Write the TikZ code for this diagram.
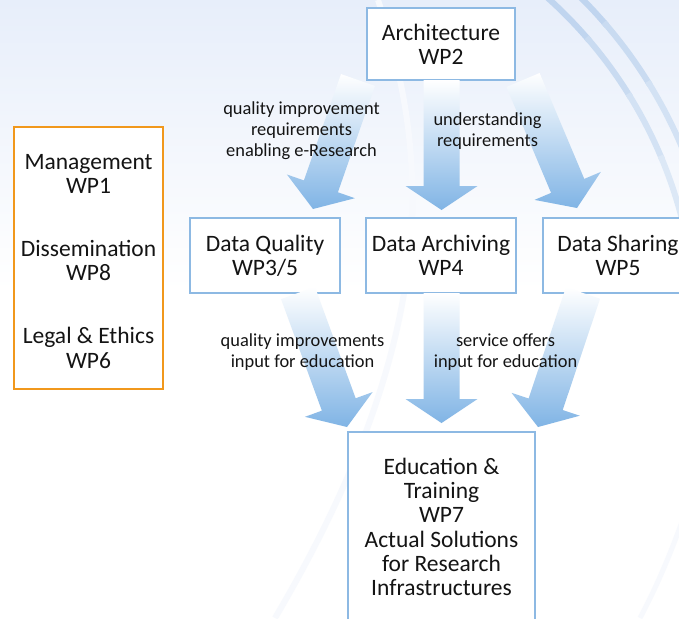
\documentclass[tikz,border=0pt]{standalone}
\usepackage{fontspec}
\setmainfont{Carlito}
\usetikzlibrary{calc}
\definecolor{boxblue}{RGB}{141,185,227}
\definecolor{arrblue}{RGB}{128,180,229}
\definecolor{orangeb}{RGB}{241,152,28}
\definecolor{bgtop}{RGB}{231,238,250}
\definecolor{arcblue}{RGB}{192,213,239}
\definecolor{faintarc}{RGB}{247,249,253}
\definecolor{txt}{RGB}{20,20,20}
\tikzset{
  wpbox/.style={draw=boxblue, line width=2.6pt, fill=white, inner sep=0pt},
  mgbox/.style={draw=orangeb, line width=2.6pt, fill=white, inner sep=0pt},
  boxtext/.style={font=\fontsize{23.5}{24.3}\selectfont, align=center, text=txt, inner sep=0pt},
  lbl/.style={font=\fontsize{18.4}{21}\selectfont, align=center, text=txt, inner sep=0pt},
  arrowfill/.style={top color=white, bottom color=arrblue, draw=none},
  arcband/.style={line width=6pt},
}
\newcommand{\blockarrow}[2]{%
  \coordinate (#1-h) at ($(#2)!24pt!(#1)$);
  \path[arrowfill] ($(#1)!18pt!90:(#2)$) -- ($(#1-h)!18pt!90:(#2)$) -- ($(#1-h)!36pt!90:(#2)$) -- (#2)
    -- ($(#1-h)!36pt!-90:(#2)$) -- ($(#1-h)!18pt!-90:(#2)$) -- ($(#1)!18pt!-90:(#2)$) -- cycle;
}
\newcommand{\fadearc}[1]{%
  \draw[arcband, arcblue] plot[domain=-52:-40.5, samples=20] ({250+#1*cos(\x)},{330+#1*sin(\x)});
  \draw[arcband, arcblue!85] plot[domain=-41:-31.5, samples=20] ({250+#1*cos(\x)},{330+#1*sin(\x)});
  \draw[arcband, arcblue!70] plot[domain=-32:-22.5, samples=20] ({250+#1*cos(\x)},{330+#1*sin(\x)});
  \draw[arcband, arcblue!55] plot[domain=-23:-12, samples=20] ({250+#1*cos(\x)},{330+#1*sin(\x)});
}
\begin{document}
\begin{tikzpicture}[x=1pt, y=-1pt]
\useasboundingbox (0,0) rectangle (679,618);
\clip (0,0) rectangle (679,618);
% background
\fill[white] (0,0) rectangle (679,618);
\fill[top color=bgtop, bottom color=white] (0,0) rectangle (679,290);
% decorative arcs
\draw[faintarc, line width=6pt] (378,0) .. controls (428,150) and (445,330) .. (275,618);
\draw[faintarc, line width=5pt] (640,618) .. controls (660,580) and (672,550) .. (690,500);
\fadearc{446}
\fadearc{469}

% boxes
\node[wpbox, minimum width=148pt, minimum height=72pt] (arch) at (441,44) {};
\node[mgbox, minimum width=149pt, minimum height=262pt] (mgmt) at (88.5,258) {};
\node[wpbox, minimum width=150pt, minimum height=75pt] (dq) at (265,255.5) {};
\node[wpbox, minimum width=150pt, minimum height=75pt] (da) at (441,255.5) {};
\node[wpbox, minimum width=150pt, minimum height=75pt] (ds) at (618,255.5) {};
\node[wpbox, minimum width=187pt, minimum height=218pt] (edu) at (441.5,541) {};

% arrow end points
\coordinate (u1) at (358,80);   \coordinate (u1t) at (313,209);
\coordinate (u2) at (441.5,80); \coordinate (u2t) at (441.5,210);
\coordinate (u3) at (523,80);   \coordinate (u3t) at (577,208);
\coordinate (d1) at (298,293);  \coordinate (d1t) at (347,427);
\coordinate (d2) at (441.5,293);\coordinate (d2t) at (441.5,423);
\coordinate (d3) at (583,293);  \coordinate (d3t) at (538,427);
\blockarrow{u1}{u1t}
\blockarrow{u2}{u2t}
\blockarrow{u3}{u3t}
\blockarrow{d1}{d1t}
\blockarrow{d2}{d2t}
\blockarrow{d3}{d3t}

% box texts
\node[boxtext] (archt) at (arch) {Architecture\\WP2};
\node[boxtext] (m1) at (88.5,174) {Management\\WP1};
\node[boxtext] (m2) at (88.5,260.5) {Dissemination\\WP8};
\node[boxtext] (m3) at (88.5,348) {Legal \& Ethics\\WP6};
\node[boxtext] (dqt) at (dq) {Data Quality\\WP3/5};
\node[boxtext] (dat) at (da) {Data Archiving\\WP4};
\node[boxtext] (dst) at (ds) {Data Sharing\\WP5};
\node[boxtext] (edut) at (441.5,527) {Education \&\\Training\\WP7\\Actual Solutions\\for Research\\Infrastructures};

% labels
\node[lbl] (l1) at (301.5,131) {quality improvement\\requirements\\enabling e-Research};
\node[lbl] (l2) at (487.5,131.5) {understanding\\requirements};
\node[lbl] (l3) at (302.5,352.5) {quality improvements\\input for education};
\node[lbl] (l4) at (505.5,352.5) {service offers\\input for education};
\end{tikzpicture}
\end{document}
